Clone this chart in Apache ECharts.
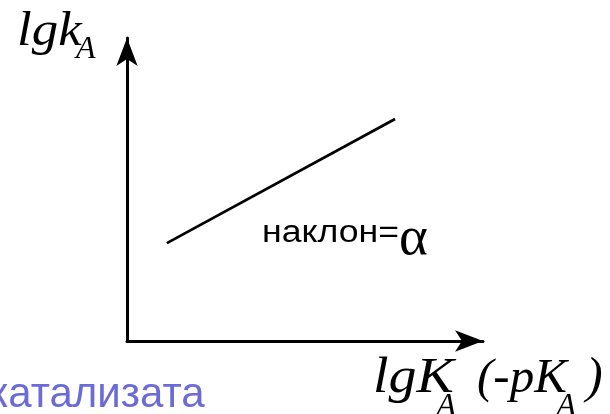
<!DOCTYPE html>
<html>
<head>
<meta charset="utf-8">
<script src="https://cdn.jsdelivr.net/npm/echarts@6/dist/echarts.min.js"></script>
<style>
  html, body { margin: 0; padding: 0; background: #ffffff; }
  #chart { width: 610px; height: 414px; }
</style>
</head>
<body>
<div id="chart"></div>
<script>
// Schematic: lg k_A plotted against lg K_A (Brønsted relation), slope = alpha
const xRange = [0, 10];
const yRange = [0, 10];
const lineX = [1.12, 7.53];
const lineY = [3.23, 7.33];

const serif = '"Liberation Serif", "DejaVu Serif", serif';
const sans = '"Liberation Sans", Arial, sans-serif';

const chart = echarts.init(document.getElementById('chart'), null, { renderer: 'canvas' });

const axisCommon = {
  type: 'value',
  axisTick: { show: false },
  axisLabel: { show: false },
  splitLine: { show: false },
  axisLine: {
    show: true,
    onZero: false,
    symbol: ['none', 'arrow'],
    symbolSize: [16, 28],
    lineStyle: { color: '#000000', width: 3 }
  }
};

function label(text, x, y, size, opts) {
  opts = opts || {};
  return {
    type: 'text',
    x: x,
    y: y,
    scaleX: opts.scaleX || 1,
    silent: true,
    style: {
      text: text,
      fill: opts.color || '#000000',
      font: (opts.italic ? 'italic ' : '') + size + 'px ' + (opts.family || serif),
      textAlign: 'left',
      textVerticalAlign: 'middle'
    }
  };
}

chart.setOption({
  animation: false,
  backgroundColor: '#ffffff',
  grid: { left: 127, right: 127, top: 38, bottom: 73 },
  xAxis: Object.assign({}, axisCommon, { min: xRange[0], max: xRange[1] }),
  yAxis: Object.assign({}, axisCommon, { min: yRange[0], max: yRange[1] }),
  series: [{
    type: 'line',
    data: lineX.map((x, i) => [x, lineY[i]]),
    showSymbol: false,
    lineStyle: { color: '#000000', width: 2.8 }
  }],
  graphic: [
    // y-axis title: lg k_A
    label('lgk', 17, 32, 49, { italic: true, scaleX: 1.08 }),
    label('A', 76, 50, 32, { italic: true }),
    // x-axis title: lg K_A (-pK_A)
    label('lgK', 373, 379, 50, { italic: true, scaleX: 1.12 }),
    label('A', 436, 407, 33, { italic: true }),
    label('(-pK', 477, 379, 49, { italic: true }),
    label('A', 556, 407, 33, { italic: true }),
    label(')', 586, 379, 50, { italic: true }),
    // slope annotation
    label('наклон=', 262, 233, 31, { family: sans, scaleX: 1.15 }),
    label('α', 399, 240, 55, {}),
    // caption fragment at the lower left
    label('катализата', -11, 395, 42, { family: sans, color: '#6a6ad8' })
  ]
});
</script>
</body>
</html>
